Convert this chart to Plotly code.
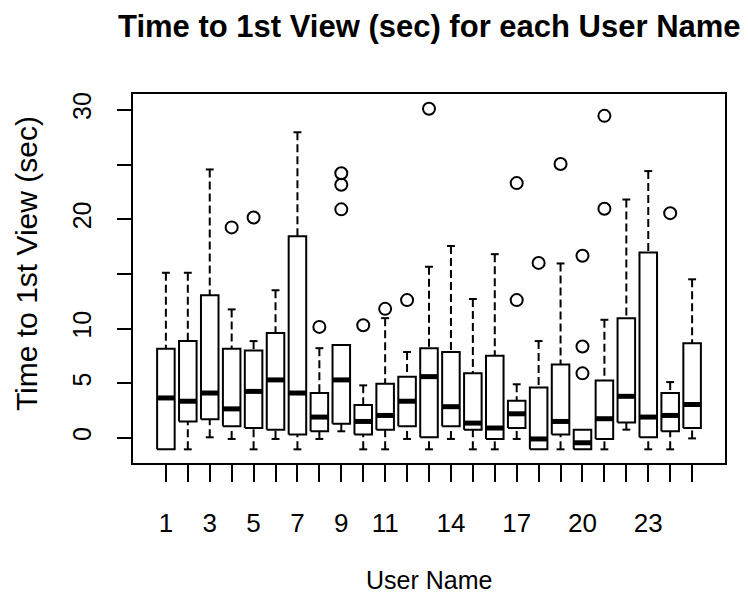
import plotly.graph_objects as go

# ---- data ----
users = list(range(1, 26))
lower_whisker = [-1.05, -1.05, 0.05, -0.1, -1.05, -0.1, -1.05, -0.1, 0.6, -1.05, -1.05, -0.1, -1.05,
                 -0.1, -1.05, -1.05, -0.1, -1.05, -1.05, -1.05, -1.05, 0.75, -1.05, -1.05, -0.05]
q1 = [-1.05, 1.5, 1.7, 1.05, 0.9, 0.75, 0.3, 0.6, 1.3, 0.3, 0.75, 1.05, 0.05,
      1.05, 0.75, -0.1, 0.9, -1.05, 0.3, -1.05, -0.1, 1.4, 0.05, 0.6, 0.9]
median = [3.65, 3.35, 4.1, 2.65, 4.25, 5.3, 4.1, 1.9, 5.3, 1.5, 2.05, 3.35, 5.6,
          2.85, 1.35, 0.9, 2.2, -0.1, 1.5, -0.45, 1.75, 3.8, 1.9, 2.05, 3.05]
q3 = [8.15, 8.85, 13.05, 8.15, 8.0, 9.6, 18.45, 4.1, 8.5, 3.0, 4.95, 5.6, 8.2,
      7.85, 5.9, 7.5, 3.4, 4.6, 6.7, 0.75, 5.25, 10.95, 16.95, 4.1, 8.65]
upper_whisker = [15.1, 15.1, 24.55, 11.75, 8.85, 13.5, 27.95, 8.2, 8.5, 4.8, 10.95, 7.85, 15.65,
                 17.55, 12.7, 16.8, 4.9, 8.85, 15.95, 0.75, 10.8, 21.8, 24.4, 5.1, 14.5]
outlier_user = [4, 5, 8, 9, 9, 9, 10, 11, 12, 13, 17, 17, 18, 19, 20, 20, 20, 21, 21, 24]
outlier_value = [19.25, 20.15, 10.15, 24.2, 23.15, 20.9, 10.3, 11.8, 12.6, 30.1, 23.3, 12.6,
                 16.0, 25.05, 16.65, 8.35, 5.9, 29.45, 20.95, 20.55]
tick_labels = ["1", "", "3", "", "5", "", "7", "", "9", "", "11", "", "", "14", "", "", "17",
               "", "", "20", "", "", "23", "", ""]
y_ticks = [0, 5, 10, 15, 20, 25, 30]
y_tick_labels = ["0", "5", "10", "", "20", "", "30"]

title = "Time to 1st View (sec) for each User Name"
x_title = "User Name"
y_title = "Time to 1st View (sec)"

BOX_W = 0.8       # R boxwex
CAP_W = 0.36      # staple width
FONT = "Liberation Sans, Arial, sans-serif"

box_x, box_y = [], []
med_x, med_y = [], []
wh_x, wh_y = [], []
cap_x, cap_y = [], []
for u, lo, a, m, b, hi in zip(users, lower_whisker, q1, median, q3, upper_whisker):
    h = BOX_W / 2
    box_x += [u - h, u + h, u + h, u - h, u - h, None]
    box_y += [a, a, b, b, a, None]
    med_x += [u - h, u + h, None]
    med_y += [m, m, None]
    if hi > b:
        wh_x += [u, u, None]
        wh_y += [hi, b, None]
        cap_x += [u - CAP_W / 2, u + CAP_W / 2, None]
        cap_y += [hi, hi, None]
    if lo < a:
        wh_x += [u, u, None]
        wh_y += [lo, a, None]
        cap_x += [u - CAP_W / 2, u + CAP_W / 2, None]
        cap_y += [lo, lo, None]

fig = go.Figure()
fig.add_trace(go.Scatter(x=wh_x, y=wh_y, mode="lines",
                         line=dict(color="black", width=2, dash="8px,4px"), hoverinfo="skip"))
fig.add_trace(go.Scatter(x=cap_x, y=cap_y, mode="lines",
                         line=dict(color="black", width=2), hoverinfo="skip"))
fig.add_trace(go.Scatter(x=box_x, y=box_y, mode="lines", fill="toself", fillcolor="white",
                         line=dict(color="black", width=2), hoverinfo="skip"))
fig.add_trace(go.Scatter(x=med_x, y=med_y, mode="lines",
                         line=dict(color="black", width=5), hoverinfo="skip"))
fig.add_trace(go.Scatter(x=outlier_user, y=outlier_value, mode="markers",
                         marker=dict(symbol="circle-open", size=12, color="black",
                                     line=dict(width=2, color="black"))))

# page has an 8px body margin: figure is 740x588, plot area at page x 133..725, y 94..463
fig.update_layout(
    width=740, height=588,
    paper_bgcolor="white", plot_bgcolor="white",
    showlegend=False,
    margin=dict(l=125, r=23, t=86, b=133, autoexpand=False),
    font=dict(family=FONT, color="black"),
    annotations=[
        dict(text="<b>" + title + "</b>", xref="paper", yref="paper",
             x=0.5, y=1.0, xanchor="center", yanchor="middle", yshift=68,
             showarrow=False, font=dict(size=31, family=FONT, color="black")),
        dict(text=x_title, xref="paper", yref="paper",
             x=0.5, y=0.0, xanchor="center", yanchor="middle", yshift=-117,
             showarrow=False, font=dict(size=25, family=FONT, color="black")),
        dict(text=y_title, xref="paper", yref="paper", textangle=-90,
             x=0.0, y=0.539, xanchor="center", yanchor="middle", xshift=-107,
             showarrow=False, font=dict(size=30, family=FONT, color="black")),
    ],
)
fig.update_xaxes(
    range=[-0.5, 26.5], tickmode="array", tickvals=users, ticktext=tick_labels,
    ticks="outside", ticklen=17, tickwidth=2, tickcolor="black", ticklabelstandoff=19,
    showline=True, linecolor="black", linewidth=2, mirror=True,
    showgrid=False, zeroline=False, automargin=False,
    tickfont=dict(size=26, family=FONT, color="black"),
)
fig.update_yaxes(
    range=[-2.3, 31.45], tickmode="array", tickvals=y_ticks, ticktext=y_tick_labels,
    ticks="outside", ticklen=14, tickwidth=2, tickcolor="black", tickangle=-90,
    ticklabelstandoff=16,
    showline=True, linecolor="black", linewidth=2, mirror=True,
    showgrid=False, zeroline=False, automargin=False,
    tickfont=dict(size=25, family=FONT, color="black"),
)

fig.write_html("out.html")
